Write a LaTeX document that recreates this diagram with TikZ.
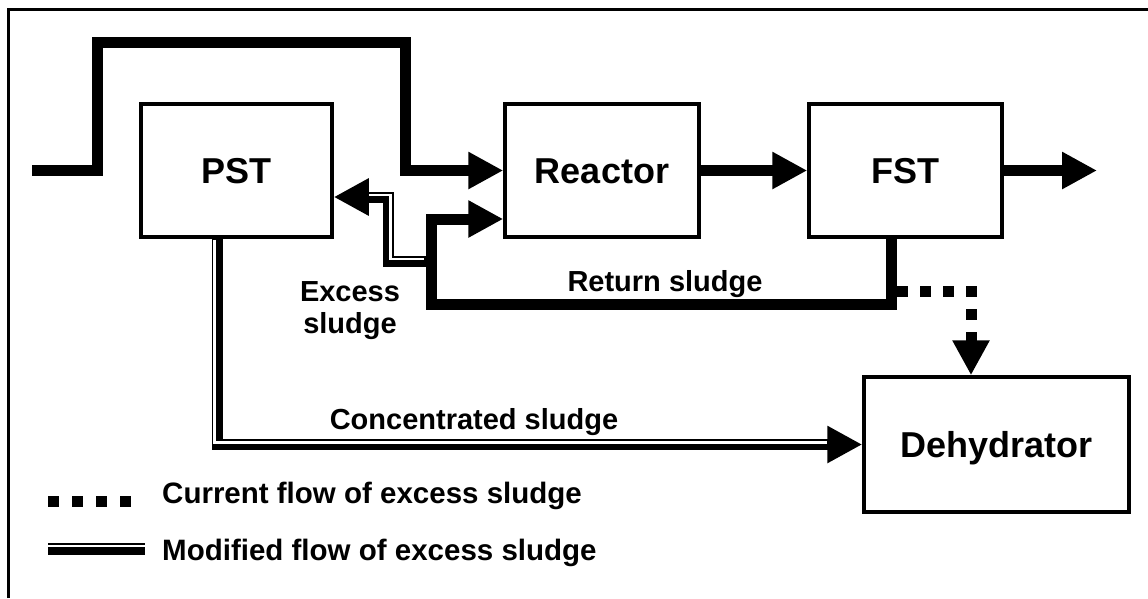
\documentclass[tikz,border=0pt]{standalone}
\usepackage{fontspec}
\setmainfont{Liberation Sans}
\usetikzlibrary{arrows.meta}

\begin{document}
\begin{tikzpicture}[x=1pt, y=-1pt,
        headtip/.style={-{Triangle[length=35pt, width=35pt]}},
        flow/.style={headtip, line width=11pt},
        curflow/.style={flow, dash pattern=on 11pt off 12pt},
        gapline/.style={draw=white, line width=2.5pt},
        unit/.style={draw, line width=3.5pt, inner sep=0pt, font=\fontsize{36}{40}\selectfont\bfseries, text height=25.8pt, text depth=0pt},
        lbl/.style={font=\fontsize{29}{33}\selectfont\bfseries, inner sep=0pt, anchor=base},
        legtext/.style={font=\fontsize{29.5}{34}\selectfont\bfseries, inner sep=0pt, anchor=base west}]
        \useasboundingbox (0,0) rectangle (1148,598);
        \fill[white] (0,0) rectangle (1148,598);
        \draw[line width=3pt] (8.5,598) |- (1148,9.5); %枠

        \node[unit, minimum width=191pt, minimum height=133pt] (PST) at (236.5,170.5) {PST};
        \node[unit, minimum width=194pt, minimum height=133pt] (Reactor) at (602,170.5) {Reactor};
        \node[unit, minimum width=193pt, minimum height=133pt] (FST) at (905.5,170.5) {FST};
        \node[unit, minimum width=265pt, minimum height=135pt] (Dehydrator) at (996.5,444.5) {Dehydrator};

        \coordinate (inlet) at (32,170.5);
        \coordinate (outlet) at (1097,170.5);
        \coordinate (xjoin) at (431,261);
        \coordinate (tap) at (897,291);

        \draw[flow] (inlet) -| (97,42) -| (405,170.5) -- (Reactor.west); %流入
        \draw[flow] (Reactor) -- (FST);
        \draw[flow] (FST) -- (outlet);
        \draw[flow] ([xshift=-14.5pt]FST.south) |- (431,304) |- ([yshift=-48.5pt]Reactor.west); %返送汚泥
        \node[lbl] (retlbl) at (665,291) {Return sludge};

        \draw[curflow] (tap) -| ([xshift=-25.5pt]Dehydrator.north); %現在の余剰汚泥

        \draw[flow] (xjoin) -| (388.5,197) -- ([yshift=-26.5pt]PST.east); %変更後の余剰汚泥
        \draw[gapline, shorten <=9pt, shorten >=33pt, transform canvas={shift={(2pt,2pt)}}] (xjoin) -| (388.5,197) -- ([yshift=-26.5pt]PST.east);
        \node[lbl] (exclbl1) at (350,301) {Excess};
        \node[lbl] (exclbl2) at (350,333) {sludge};

        \draw[flow] ([xshift=-19.5pt]PST.south) |- (Dehydrator.west); %濃縮汚泥
        \draw[gapline, shorten <=3pt, shorten >=33pt, transform canvas={shift={(-2.5pt,2pt)}}] ([xshift=-19.5pt]PST.south) |- (Dehydrator.west);
        \node[lbl] (conclbl) at (474,429) {Concentrated sludge};

        %凡例
        \coordinate (cur1) at (48,501);
        \coordinate (cur2) at (131,501);
        \coordinate (mod1) at (48,548.5);
        \coordinate (mod2) at (145,548.5);
        \draw[curflow, -, dash pattern=on 11pt off 13pt] (cur1) -- (cur2);
        \draw[line width=12pt] (mod1) -- (mod2);
        \draw[gapline, line width=2pt, transform canvas={shift={(0pt,2.5pt)}}] (mod1) -- (mod2);
        \node[legtext] (curtext) at (162,503) {Current flow of excess sludge};
        \node[legtext] (modtext) at (162,560) {Modified flow of excess sludge};
    \end{tikzpicture}
\end{document}
